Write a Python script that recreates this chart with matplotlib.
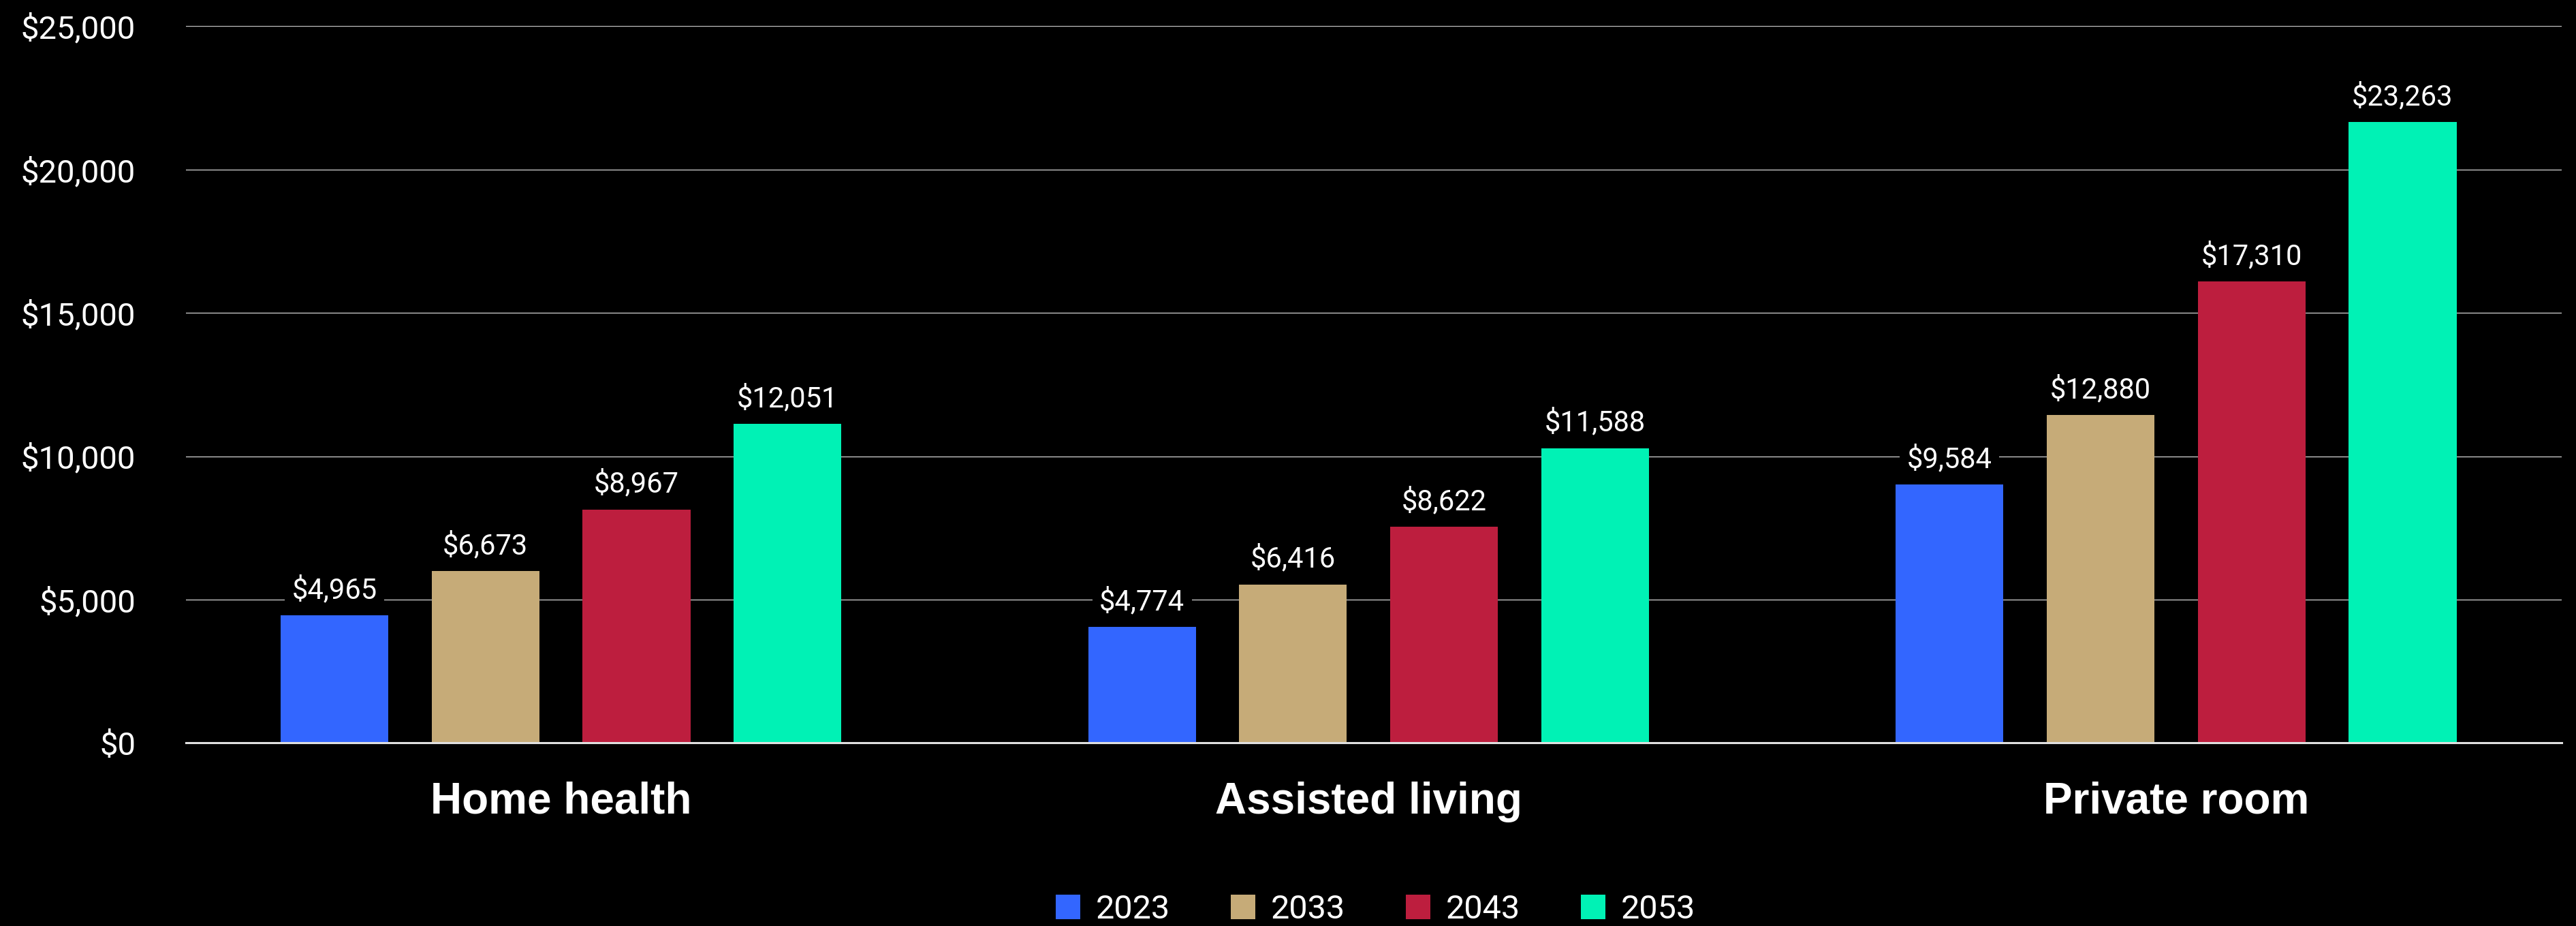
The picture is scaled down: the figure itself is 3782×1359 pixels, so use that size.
import matplotlib.pyplot as plt
import matplotlib.transforms as mtransforms
from matplotlib.patches import Patch
import numpy as np

# === Data ===
categories = ["Home health", "Assisted living", "Private room"]
years = ["2023", "2033", "2043", "2053"]
colors = ["#3366ff", "#c6ab78", "#bd1e3e", "#00f2b5"]

# bar heights as drawn in the chart
h_2023 = [4456, 4052, 9019]
h_2033 = [6000, 5530, 11438]
h_2043 = [8146, 7543, 16093]
h_2053 = [11129, 10283, 21658]
heights = [h_2023, h_2033, h_2043, h_2053]

# printed labels above the bars
lab_2023 = ["$4,965", "$4,774", "$9,584"]
lab_2033 = ["$6,673", "$6,416", "$12,880"]
lab_2043 = ["$8,967", "$8,622", "$17,310"]
lab_2053 = ["$12,051", "$11,588", "$23,263"]
bar_labels = [lab_2023, lab_2033, lab_2043, lab_2053]

yticks = [0, 5000, 10000, 15000, 20000, 25000]
ytick_labels = ["$0", "$5,000", "$10,000", "$15,000", "$20,000", "$25,000"]

# === Style ===
thin = "Roboto"
bold = "Liberation Sans"

fig = plt.figure(figsize=(37.82, 13.59), dpi=100, facecolor="black")
ax = fig.add_axes([0.0721, 0.1976, 0.9223, 0.7742])
ax.set_facecolor("black")

x = np.arange(len(categories))
step = 0.187
width = 0.1333

for i, (yr, col) in enumerate(zip(years, colors)):
    xs = x + (i - 1.5) * step
    bars = ax.bar(xs, heights[i], width=width, color=col, zorder=2)
    for b, txt in zip(bars, bar_labels[i]):
        ax.annotate(txt, (b.get_x() + b.get_width() / 2, b.get_height()),
                    xytext=(0, 18), textcoords="offset points",
                    ha="center", va="baseline", color="white",
                    fontsize=30, family=thin, zorder=3,
                    bbox=dict(boxstyle="square,pad=0.25", fc="black", ec="none"))

ax.set_xlim(-0.4647, 2.4773)
ax.set_ylim(0, 25000)
ax.set_yticks(yticks)
ax.set_yticklabels(ytick_labels, family=thin)
ax.tick_params(axis="y", length=0, pad=53, labelsize=34, labelcolor="white")
ax.set_xticks([])

ax.grid(axis="y", color="#c4c4c4", linewidth=1.0)
ax.set_axisbelow(True)
for s in ["left", "right", "top"]:
    ax.spines[s].set_visible(False)
ax.spines["bottom"].set_color("#e0e0e0")
ax.spines["bottom"].set_linewidth(2.2)

# category labels under each group
trans = mtransforms.blended_transform_factory(ax.transData, ax.transAxes)
for xi, cat in zip(x, categories):
    ax.text(xi, -0.0984, cat, transform=trans, ha="center", va="baseline",
            color="white", fontsize=46, fontweight="bold", family=bold)

# legend
handles = [Patch(facecolor=c, edgecolor="none", label=y) for c, y in zip(colors, years)]
leg = fig.legend(handles=handles, loc="center", bbox_to_anchor=(0.534, 0.0177),
                 ncol=4, frameon=False, borderpad=0, handlelength=0.74,
                 handleheight=0.74, handletextpad=0.47, columnspacing=1.83,
                 prop={"family": thin, "size": 35})
for t in leg.get_texts():
    t.set_color("white")

fig.savefig("out.png", dpi=100, facecolor="black")
